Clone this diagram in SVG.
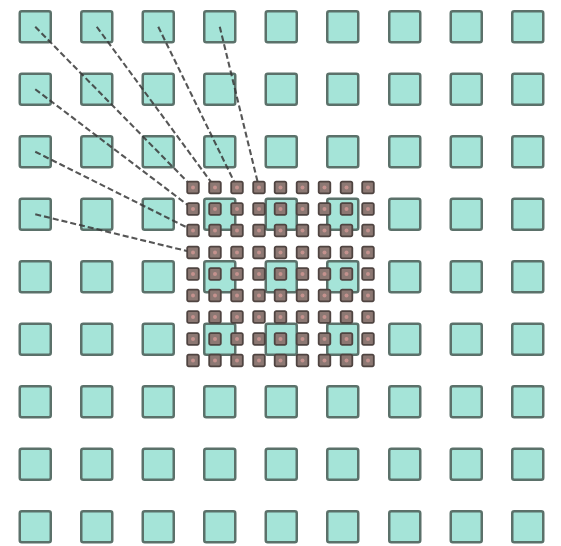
<svg xmlns="http://www.w3.org/2000/svg" xmlns:xlink="http://www.w3.org/1999/xlink" width="561" height="546" viewBox="0 0 561 546">
<style>
.big{fill:#a5e4d8;stroke:#5b716a;stroke-width:2.5}
.smb{fill:#8c7873;stroke:#4f4441;stroke-width:1.8}
.smd{fill:#c4928e}
.conn{fill:none;stroke:#383838;stroke-width:2.1;stroke-dasharray:6 3;opacity:.85}
</style>
<defs>
<rect id="big" class="big" x="1.25" y="1.25" width="31" height="31" rx="2"/>
<g id="sm"><rect class="smb" x="-5.8" y="-5.8" width="11.6" height="11.6" rx="1.5"/><circle class="smd" r="2"/></g>
</defs>
<rect width="561" height="546" fill="#fff"/>
<g id="input">
<g id="in-0-0"><use href="#big" x="18.5" y="10"/></g><g id="in-0-1"><use href="#big" x="80" y="10"/></g><g id="in-0-2"><use href="#big" x="141.5" y="10"/></g><g id="in-0-3"><use href="#big" x="203" y="10"/></g><g id="in-0-4"><use href="#big" x="264.5" y="10"/></g><g id="in-0-5"><use href="#big" x="326" y="10"/></g><g id="in-0-6"><use href="#big" x="388" y="10"/></g><g id="in-0-7"><use href="#big" x="449.5" y="10"/></g><g id="in-0-8"><use href="#big" x="511" y="10"/></g>
<g id="in-1-0"><use href="#big" x="18.5" y="72.5"/></g><g id="in-1-1"><use href="#big" x="80" y="72.5"/></g><g id="in-1-2"><use href="#big" x="141.5" y="72.5"/></g><g id="in-1-3"><use href="#big" x="203" y="72.5"/></g><g id="in-1-4"><use href="#big" x="264.5" y="72.5"/></g><g id="in-1-5"><use href="#big" x="326" y="72.5"/></g><g id="in-1-6"><use href="#big" x="388" y="72.5"/></g><g id="in-1-7"><use href="#big" x="449.5" y="72.5"/></g><g id="in-1-8"><use href="#big" x="511" y="72.5"/></g>
<g id="in-2-0"><use href="#big" x="18.5" y="135"/></g><g id="in-2-1"><use href="#big" x="80" y="135"/></g><g id="in-2-2"><use href="#big" x="141.5" y="135"/></g><g id="in-2-3"><use href="#big" x="203" y="135"/></g><g id="in-2-4"><use href="#big" x="264.5" y="135"/></g><g id="in-2-5"><use href="#big" x="326" y="135"/></g><g id="in-2-6"><use href="#big" x="388" y="135"/></g><g id="in-2-7"><use href="#big" x="449.5" y="135"/></g><g id="in-2-8"><use href="#big" x="511" y="135"/></g>
<g id="in-3-0"><use href="#big" x="18.5" y="197.5"/></g><g id="in-3-1"><use href="#big" x="80" y="197.5"/></g><g id="in-3-2"><use href="#big" x="141.5" y="197.5"/></g><g id="in-3-3"><use href="#big" x="203" y="197.5"/></g><g id="in-3-4"><use href="#big" x="264.5" y="197.5"/></g><g id="in-3-5"><use href="#big" x="326" y="197.5"/></g><g id="in-3-6"><use href="#big" x="388" y="197.5"/></g><g id="in-3-7"><use href="#big" x="449.5" y="197.5"/></g><g id="in-3-8"><use href="#big" x="511" y="197.5"/></g>
<g id="in-4-0"><use href="#big" x="18.5" y="260"/></g><g id="in-4-1"><use href="#big" x="80" y="260"/></g><g id="in-4-2"><use href="#big" x="141.5" y="260"/></g><g id="in-4-3"><use href="#big" x="203" y="260"/></g><g id="in-4-4"><use href="#big" x="264.5" y="260"/></g><g id="in-4-5"><use href="#big" x="326" y="260"/></g><g id="in-4-6"><use href="#big" x="388" y="260"/></g><g id="in-4-7"><use href="#big" x="449.5" y="260"/></g><g id="in-4-8"><use href="#big" x="511" y="260"/></g>
<g id="in-5-0"><use href="#big" x="18.5" y="322.5"/></g><g id="in-5-1"><use href="#big" x="80" y="322.5"/></g><g id="in-5-2"><use href="#big" x="141.5" y="322.5"/></g><g id="in-5-3"><use href="#big" x="203" y="322.5"/></g><g id="in-5-4"><use href="#big" x="264.5" y="322.5"/></g><g id="in-5-5"><use href="#big" x="326" y="322.5"/></g><g id="in-5-6"><use href="#big" x="388" y="322.5"/></g><g id="in-5-7"><use href="#big" x="449.5" y="322.5"/></g><g id="in-5-8"><use href="#big" x="511" y="322.5"/></g>
<g id="in-6-0"><use href="#big" x="18.5" y="385"/></g><g id="in-6-1"><use href="#big" x="80" y="385"/></g><g id="in-6-2"><use href="#big" x="141.5" y="385"/></g><g id="in-6-3"><use href="#big" x="203" y="385"/></g><g id="in-6-4"><use href="#big" x="264.5" y="385"/></g><g id="in-6-5"><use href="#big" x="326" y="385"/></g><g id="in-6-6"><use href="#big" x="388" y="385"/></g><g id="in-6-7"><use href="#big" x="449.5" y="385"/></g><g id="in-6-8"><use href="#big" x="511" y="385"/></g>
<g id="in-7-0"><use href="#big" x="18.5" y="447.5"/></g><g id="in-7-1"><use href="#big" x="80" y="447.5"/></g><g id="in-7-2"><use href="#big" x="141.5" y="447.5"/></g><g id="in-7-3"><use href="#big" x="203" y="447.5"/></g><g id="in-7-4"><use href="#big" x="264.5" y="447.5"/></g><g id="in-7-5"><use href="#big" x="326" y="447.5"/></g><g id="in-7-6"><use href="#big" x="388" y="447.5"/></g><g id="in-7-7"><use href="#big" x="449.5" y="447.5"/></g><g id="in-7-8"><use href="#big" x="511" y="447.5"/></g>
<g id="in-8-0"><use href="#big" x="18.5" y="510"/></g><g id="in-8-1"><use href="#big" x="80" y="510"/></g><g id="in-8-2"><use href="#big" x="141.5" y="510"/></g><g id="in-8-3"><use href="#big" x="203" y="510"/></g><g id="in-8-4"><use href="#big" x="264.5" y="510"/></g><g id="in-8-5"><use href="#big" x="326" y="510"/></g><g id="in-8-6"><use href="#big" x="388" y="510"/></g><g id="in-8-7"><use href="#big" x="449.5" y="510"/></g><g id="in-8-8"><use href="#big" x="511" y="510"/></g>
</g>
<g id="connectors">
<line class="conn" x1="35.25" y1="26.75" x2="193" y2="187.5"/>
<line class="conn" x1="96.75" y1="26.75" x2="215" y2="187.5"/>
<line class="conn" x1="158.25" y1="26.75" x2="237" y2="187.5"/>
<line class="conn" x1="219.75" y1="26.75" x2="259" y2="187.5"/>
<line class="conn" x1="35.25" y1="89.25" x2="193" y2="209"/>
<line class="conn" x1="35.25" y1="151.75" x2="193" y2="230.5"/>
<line class="conn" x1="35.25" y1="214.25" x2="193" y2="252.5"/>
</g>
<g id="output">
<g id="out-0-0"><use href="#sm" x="193" y="187.5"/></g><g id="out-0-1"><use href="#sm" x="215" y="187.5"/></g><g id="out-0-2"><use href="#sm" x="237" y="187.5"/></g><g id="out-0-3"><use href="#sm" x="259" y="187.5"/></g><g id="out-0-4"><use href="#sm" x="280.5" y="187.5"/></g><g id="out-0-5"><use href="#sm" x="302.5" y="187.5"/></g><g id="out-0-6"><use href="#sm" x="324.5" y="187.5"/></g><g id="out-0-7"><use href="#sm" x="346.5" y="187.5"/></g><g id="out-0-8"><use href="#sm" x="368" y="187.5"/></g>
<g id="out-1-0"><use href="#sm" x="193" y="209"/></g><g id="out-1-1"><use href="#sm" x="215" y="209"/></g><g id="out-1-2"><use href="#sm" x="237" y="209"/></g><g id="out-1-3"><use href="#sm" x="259" y="209"/></g><g id="out-1-4"><use href="#sm" x="280.5" y="209"/></g><g id="out-1-5"><use href="#sm" x="302.5" y="209"/></g><g id="out-1-6"><use href="#sm" x="324.5" y="209"/></g><g id="out-1-7"><use href="#sm" x="346.5" y="209"/></g><g id="out-1-8"><use href="#sm" x="368" y="209"/></g>
<g id="out-2-0"><use href="#sm" x="193" y="230.5"/></g><g id="out-2-1"><use href="#sm" x="215" y="230.5"/></g><g id="out-2-2"><use href="#sm" x="237" y="230.5"/></g><g id="out-2-3"><use href="#sm" x="259" y="230.5"/></g><g id="out-2-4"><use href="#sm" x="280.5" y="230.5"/></g><g id="out-2-5"><use href="#sm" x="302.5" y="230.5"/></g><g id="out-2-6"><use href="#sm" x="324.5" y="230.5"/></g><g id="out-2-7"><use href="#sm" x="346.5" y="230.5"/></g><g id="out-2-8"><use href="#sm" x="368" y="230.5"/></g>
<g id="out-3-0"><use href="#sm" x="193" y="252.5"/></g><g id="out-3-1"><use href="#sm" x="215" y="252.5"/></g><g id="out-3-2"><use href="#sm" x="237" y="252.5"/></g><g id="out-3-3"><use href="#sm" x="259" y="252.5"/></g><g id="out-3-4"><use href="#sm" x="280.5" y="252.5"/></g><g id="out-3-5"><use href="#sm" x="302.5" y="252.5"/></g><g id="out-3-6"><use href="#sm" x="324.5" y="252.5"/></g><g id="out-3-7"><use href="#sm" x="346.5" y="252.5"/></g><g id="out-3-8"><use href="#sm" x="368" y="252.5"/></g>
<g id="out-4-0"><use href="#sm" x="193" y="274"/></g><g id="out-4-1"><use href="#sm" x="215" y="274"/></g><g id="out-4-2"><use href="#sm" x="237" y="274"/></g><g id="out-4-3"><use href="#sm" x="259" y="274"/></g><g id="out-4-4"><use href="#sm" x="280.5" y="274"/></g><g id="out-4-5"><use href="#sm" x="302.5" y="274"/></g><g id="out-4-6"><use href="#sm" x="324.5" y="274"/></g><g id="out-4-7"><use href="#sm" x="346.5" y="274"/></g><g id="out-4-8"><use href="#sm" x="368" y="274"/></g>
<g id="out-5-0"><use href="#sm" x="193" y="295.5"/></g><g id="out-5-1"><use href="#sm" x="215" y="295.5"/></g><g id="out-5-2"><use href="#sm" x="237" y="295.5"/></g><g id="out-5-3"><use href="#sm" x="259" y="295.5"/></g><g id="out-5-4"><use href="#sm" x="280.5" y="295.5"/></g><g id="out-5-5"><use href="#sm" x="302.5" y="295.5"/></g><g id="out-5-6"><use href="#sm" x="324.5" y="295.5"/></g><g id="out-5-7"><use href="#sm" x="346.5" y="295.5"/></g><g id="out-5-8"><use href="#sm" x="368" y="295.5"/></g>
<g id="out-6-0"><use href="#sm" x="193" y="317"/></g><g id="out-6-1"><use href="#sm" x="215" y="317"/></g><g id="out-6-2"><use href="#sm" x="237" y="317"/></g><g id="out-6-3"><use href="#sm" x="259" y="317"/></g><g id="out-6-4"><use href="#sm" x="280.5" y="317"/></g><g id="out-6-5"><use href="#sm" x="302.5" y="317"/></g><g id="out-6-6"><use href="#sm" x="324.5" y="317"/></g><g id="out-6-7"><use href="#sm" x="346.5" y="317"/></g><g id="out-6-8"><use href="#sm" x="368" y="317"/></g>
<g id="out-7-0"><use href="#sm" x="193" y="339"/></g><g id="out-7-1"><use href="#sm" x="215" y="339"/></g><g id="out-7-2"><use href="#sm" x="237" y="339"/></g><g id="out-7-3"><use href="#sm" x="259" y="339"/></g><g id="out-7-4"><use href="#sm" x="280.5" y="339"/></g><g id="out-7-5"><use href="#sm" x="302.5" y="339"/></g><g id="out-7-6"><use href="#sm" x="324.5" y="339"/></g><g id="out-7-7"><use href="#sm" x="346.5" y="339"/></g><g id="out-7-8"><use href="#sm" x="368" y="339"/></g>
<g id="out-8-0"><use href="#sm" x="193" y="360.5"/></g><g id="out-8-1"><use href="#sm" x="215" y="360.5"/></g><g id="out-8-2"><use href="#sm" x="237" y="360.5"/></g><g id="out-8-3"><use href="#sm" x="259" y="360.5"/></g><g id="out-8-4"><use href="#sm" x="280.5" y="360.5"/></g><g id="out-8-5"><use href="#sm" x="302.5" y="360.5"/></g><g id="out-8-6"><use href="#sm" x="324.5" y="360.5"/></g><g id="out-8-7"><use href="#sm" x="346.5" y="360.5"/></g><g id="out-8-8"><use href="#sm" x="368" y="360.5"/></g>
</g>
</svg>
